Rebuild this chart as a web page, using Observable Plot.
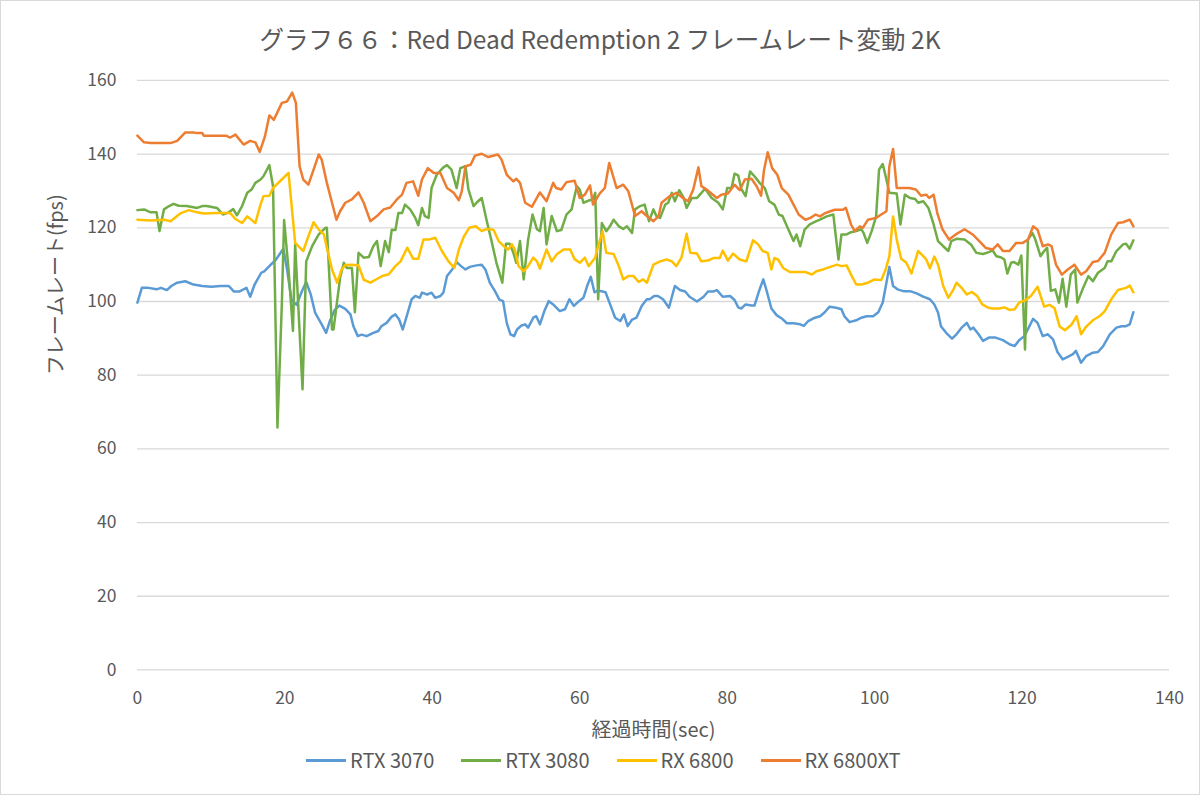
<!DOCTYPE html>
<html><head><meta charset="utf-8">
<script src="https://cdn.jsdelivr.net/npm/d3@7"></script>
<script src="https://cdn.jsdelivr.net/npm/@observablehq/plot@0.6"></script>
<style>
body{margin:0;background:#fff;}
#wrap{position:relative;width:1198px;height:793px;border:1px solid #d9d9d9;background:#fff;font-family:"Noto Sans CJK JP","Noto Sans",sans-serif;color:#595959;overflow:hidden;}
#title{position:absolute;top:22px;left:0;width:100%;text-align:center;font-size:24.5px;line-height:32px;}
#chart{position:absolute;left:-1px;top:-1px;}
#legend{position:absolute;left:305px;top:745px;display:flex;gap:27px;font-size:20px;line-height:28px;}
#legend .item{display:flex;align-items:center;gap:4px;}
#legend .sw{width:40px;height:3px;}
</style></head>
<body>
<div id="wrap">
<div id="chart"></div>
<div id="title">グラフ６６：Red Dead Redemption 2 フレームレート変動 2K</div>
<div id="legend"></div>
</div>
<script>
const seriesNames = ["RTX 3070", "RTX 3080", "RX 6800", "RX 6800XT"];
const seriesColors = ["#5b9bd5", "#70ad47", "#ffc000", "#ed7d31"];
const xTicks = [0, 20, 40, 60, 80, 100, 120, 140];
const yTicks = [0, 20, 40, 60, 80, 100, 120, 140, 160];
const yLabel = "フレームレート(fps)";
const xLabel = "経過時間(sec)";

// [time (sec), fps]
const rtx3070 = [[0,99.7],[0.6,103.7],[1.5,103.7],[2.6,103.3],[3.2,103.7],[4.0,103.1],[4.6,104.2],[5.4,105.1],[6.5,105.5],[7.6,104.6],[8.8,104.2],[10.0,104.0],[11.3,104.2],[12.4,104.2],[13.1,102.7],[13.8,102.7],[14.8,103.7],[15.3,101.3],[15.9,104.6],[16.8,107.8],[17.2,108.2],[17.9,109.6],[18.8,111.4],[19.8,114.3],[20.3,108.7],[20.9,100.4],[21.6,99.1],[22.3,102.7],[22.9,105.3],[23.5,102.0],[24.1,97.0],[25.0,93.8],[25.6,91.5],[26.1,94.7],[26.8,97.8],[27.4,98.9],[28.2,98.0],[28.9,96.5],[29.3,93.3],[29.9,90.6],[30.4,91.0],[31.1,90.6],[32.0,91.5],[32.7,92.0],[33.1,93.3],[33.8,94.2],[34.5,95.9],[35.0,96.5],[35.5,95.1],[36.0,92.4],[36.6,96.5],[37.2,100.6],[37.7,101.5],[38.3,101.0],[38.6,102.4],[39.3,101.9],[39.9,102.4],[40.4,101.0],[41.1,101.5],[41.5,102.4],[42.0,106.9],[42.7,108.7],[43.3,110.7],[43.9,109.6],[44.5,108.7],[45.1,109.4],[46.0,109.8],[46.7,110.0],[47.2,108.7],[47.8,105.1],[48.5,102.8],[49.1,100.5],[49.6,100.1],[50.1,94.2],[50.6,91.1],[51.1,90.6],[51.5,92.4],[52.1,93.5],[52.6,93.8],[53.0,92.9],[53.7,95.6],[54.1,96.0],[54.6,93.8],[55.2,97.4],[55.8,100.1],[56.4,99.2],[57.3,97.4],[58.0,97.9],[58.6,100.6],[59.2,98.8],[59.9,100.1],[60.5,101.0],[61.0,104.2],[61.5,106.7],[62.0,102.5],[62.5,103.0],[63.5,102.5],[64.2,98.8],[64.8,95.6],[65.5,94.7],[66.0,96.5],[66.5,93.3],[67.1,95.1],[67.7,95.6],[68.4,98.8],[69.1,100.6],[69.5,100.6],[70.1,101.5],[70.6,101.5],[71.3,100.6],[72.1,98.3],[72.9,104.2],[73.6,103.1],[74.3,102.7],[74.9,101.3],[75.9,100.0],[76.8,101.3],[77.4,102.7],[78.1,102.7],[78.6,103.1],[79.4,101.3],[80.4,101.5],[81.0,100.4],[81.5,98.4],[81.9,98.1],[82.5,99.2],[83.3,98.9],[83.7,98.9],[84.3,102.7],[84.9,106.0],[85.3,103.3],[86.0,98.1],[86.7,96.3],[87.4,95.4],[88.1,94.1],[89.0,94.1],[89.9,93.8],[90.4,93.4],[91.0,94.7],[91.9,95.6],[92.6,96.0],[93.2,97.0],[93.9,98.6],[94.8,98.3],[95.5,97.9],[95.9,96.0],[96.6,94.4],[97.5,94.9],[98.2,95.6],[98.9,96.0],[99.8,96.0],[100.5,97.1],[101.1,99.7],[101.6,105.1],[102.0,109.4],[102.5,104.2],[103.1,103.3],[103.9,102.8],[104.8,102.8],[105.7,102.2],[106.6,101.3],[107.5,100.6],[108.1,99.2],[108.6,97.0],[109.0,93.3],[109.7,91.5],[110.5,89.9],[111.1,91.1],[111.8,92.9],[112.5,94.2],[113.0,92.4],[113.4,92.9],[114.1,91.1],[114.7,89.3],[115.5,90.2],[116.4,90.2],[117.4,89.5],[118.3,88.4],[119.0,87.9],[119.6,89.5],[120.3,90.6],[121.0,93.3],[121.5,95.3],[122.1,94.2],[122.8,90.6],[123.5,91.1],[124.2,89.7],[124.8,86.3],[125.5,84.3],[126.2,85.0],[126.9,85.7],[127.3,86.6],[128.0,83.4],[128.7,85.2],[129.6,86.1],[130.3,86.3],[131.0,87.9],[131.9,91.1],[132.8,92.9],[133.5,93.3],[134.1,93.3],[134.6,93.8],[135.1,97.1]];

const rtx3080 = [[0,124.8],[0.9,125.0],[1.8,124.2],[2.6,124.2],[3.0,119.1],[3.6,125.0],[4.3,125.9],[4.9,126.5],[5.6,126.0],[6.7,125.9],[8.1,125.4],[8.8,125.9],[9.4,125.9],[10.8,125.4],[11.6,123.6],[12.4,124.2],[13.0,125.1],[13.5,123.4],[14.2,125.9],[14.9,129.5],[15.5,130.4],[16.0,132.2],[16.7,133.1],[17.1,134.0],[17.9,137.0],[18.4,131.3],[19.0,65.8],[19.6,99.7],[19.9,122.1],[20.5,108.7],[21.1,92.0],[21.4,115.5],[22.4,76.2],[22.9,110.9],[23.7,115.0],[24.6,118.2],[25.5,120.0],[25.7,120.0],[26.4,92.4],[26.6,92.4],[27.5,106.5],[28.0,110.5],[28.4,109.1],[29.1,109.1],[29.5,97.1],[30.0,113.2],[30.7,111.9],[31.4,112.1],[32.0,115.0],[32.5,116.4],[33.0,109.6],[33.6,116.4],[34.1,113.4],[34.5,119.5],[35.0,119.4],[35.4,124.0],[35.9,124.0],[36.3,126.3],[37.0,125.0],[37.7,122.7],[38.1,120.7],[38.6,125.4],[39.0,123.2],[39.5,122.7],[39.9,130.8],[40.6,134.4],[41.5,136.4],[42.0,137.0],[42.6,135.8],[43.3,130.8],[43.8,136.2],[44.5,136.7],[44.9,130.4],[45.6,125.9],[46.0,126.8],[46.7,128.1],[47.4,121.8],[48.1,115.9],[48.7,110.5],[49.5,105.1],[50.0,115.7],[50.5,115.7],[51.0,113.2],[51.4,110.5],[51.9,116.4],[52.4,106.0],[53.0,116.8],[53.6,123.6],[54.2,119.6],[54.6,119.1],[55.1,125.4],[55.5,115.5],[56.2,123.2],[56.9,119.1],[57.5,119.4],[58.2,123.6],[58.9,125.0],[59.6,131.3],[60.0,130.4],[60.5,126.8],[61.2,127.4],[61.8,127.7],[62.1,129.5],[62.5,100.6],[63.0,121.3],[63.6,119.1],[64.1,120.4],[64.6,122.2],[65.3,120.4],[65.9,119.7],[66.4,120.4],[67.1,118.6],[67.5,125.0],[68.2,125.9],[68.8,126.3],[69.4,121.8],[70.0,125.0],[70.4,123.2],[70.9,122.7],[71.6,126.3],[72.0,126.8],[72.5,129.5],[72.9,127.2],[73.5,130.2],[74.1,128.1],[74.5,125.4],[75.2,128.1],[75.9,128.1],[76.3,129.0],[77.0,130.6],[77.9,128.1],[78.8,126.8],[79.4,125.0],[80.0,130.8],[80.6,130.8],[81.0,134.7],[81.5,134.2],[81.9,130.6],[82.5,128.6],[83.1,135.3],[83.7,134.0],[84.4,132.2],[85.1,130.8],[85.7,127.2],[86.4,126.3],[87.0,123.6],[87.5,123.2],[88.2,120.0],[89.0,116.4],[89.4,118.2],[89.9,115.0],[90.5,119.5],[91.2,120.9],[92.1,121.8],[92.6,122.2],[93.5,123.1],[94.4,123.6],[95.1,111.4],[95.5,118.2],[96.2,118.2],[96.8,118.8],[97.5,119.1],[98.2,119.6],[98.5,118.6],[99.0,115.9],[99.6,119.1],[100.2,123.1],[100.6,135.8],[101.1,137.3],[101.6,133.1],[102.0,129.5],[103.0,129.3],[103.5,120.9],[104.1,129.0],[104.8,128.1],[105.5,127.8],[105.9,126.8],[106.6,127.2],[107.3,125.4],[108.0,120.9],[108.6,116.4],[109.3,115.0],[110.0,113.7],[110.4,116.4],[111.1,117.0],[112.2,116.8],[113.1,115.4],[113.8,113.2],[114.7,112.9],[115.5,113.4],[116.0,113.9],[116.5,112.3],[117.1,112.0],[117.6,111.4],[118.0,107.6],[118.5,110.5],[118.9,110.7],[119.5,110.0],[119.9,112.5],[120.4,87.0],[120.8,116.8],[121.4,118.6],[121.8,116.8],[122.5,112.3],[123.0,113.7],[123.4,114.6],[123.9,102.9],[124.5,103.3],[125.0,99.7],[125.5,106.2],[126.0,98.6],[126.6,107.3],[127.2,108.7],[127.5,99.7],[128.2,103.3],[129.0,106.9],[129.6,105.5],[130.3,107.8],[131.2,109.1],[131.6,110.9],[132.1,110.9],[132.8,113.7],[133.7,115.5],[134.1,115.7],[134.6,114.3],[135.1,116.6]];

const rx6800 = [[0,122.2],[1.8,122.0],[3.6,122.2],[4.5,121.8],[5.9,124.0],[7.0,124.8],[8.1,124.2],[9.0,123.9],[10.8,124.0],[12.6,124.0],[13.3,122.4],[14.2,121.3],[14.9,123.1],[16.0,121.3],[16.7,126.3],[17.1,128.6],[17.9,128.7],[18.4,130.8],[20.5,134.9],[21.4,115.9],[22.5,113.7],[23.2,117.7],[23.9,121.5],[24.6,119.5],[25.3,118.2],[25.7,114.6],[26.4,108.7],[27.1,105.1],[27.7,108.7],[28.2,109.9],[29.1,110.0],[30.0,109.8],[30.7,105.9],[31.6,105.1],[32.3,105.9],[33.2,106.9],[34.1,107.4],[35.0,109.6],[35.7,110.9],[36.6,114.6],[37.4,111.6],[38.1,111.6],[38.8,116.8],[39.5,116.8],[40.4,117.3],[41.3,113.7],[42.2,110.9],[43.0,109.1],[43.6,114.1],[44.3,117.7],[45.0,120.0],[45.9,120.4],[46.7,119.1],[47.4,119.7],[48.3,119.5],[49.0,116.4],[49.7,115.0],[50.3,114.1],[50.8,115.5],[51.2,114.1],[51.7,109.6],[52.4,108.2],[53.0,109.6],[53.7,111.9],[54.2,110.9],[54.6,108.9],[55.5,114.1],[56.2,110.9],[56.9,112.8],[57.8,114.1],[58.7,114.1],[59.3,111.5],[60.0,110.5],[60.7,111.9],[61.2,109.6],[62.1,111.9],[62.5,115.0],[63.1,119.1],[63.6,113.2],[64.6,112.9],[65.3,109.6],[65.9,106.0],[66.6,106.9],[67.3,106.9],[68.0,105.3],[68.6,106.0],[69.1,105.1],[70.0,110.0],[70.9,110.9],[71.8,111.4],[72.5,110.9],[73.1,109.6],[73.8,111.9],[74.5,118.4],[75.0,113.2],[75.9,113.0],[76.5,110.9],[77.4,111.1],[78.1,111.8],[79.0,111.8],[79.4,113.8],[80.1,111.1],[80.8,113.0],[81.7,111.4],[82.6,110.9],[83.5,116.6],[84.2,115.5],[84.8,113.7],[85.5,113.2],[86.0,108.7],[86.4,111.8],[86.9,111.4],[87.6,109.1],[88.5,108.0],[89.7,108.0],[90.6,108.0],[91.5,107.3],[92.1,108.2],[93.0,108.7],[94.0,109.4],[94.9,110.0],[95.5,109.6],[96.2,109.8],[96.8,107.3],[97.5,104.6],[98.2,104.6],[99.1,105.1],[100.0,106.0],[100.9,105.8],[101.5,108.7],[102.0,112.3],[102.5,123.1],[103.0,116.8],[103.6,111.6],[104.3,110.5],[105.0,107.6],[105.9,113.7],[106.6,112.3],[107.0,111.4],[107.5,109.0],[108.1,112.2],[108.6,110.0],[109.3,104.2],[110.0,101.0],[110.7,103.3],[111.1,105.1],[111.8,103.7],[112.5,101.9],[113.2,102.6],[113.9,101.5],[114.6,99.2],[115.4,98.3],[116.0,98.1],[116.9,98.1],[117.6,98.4],[118.3,97.7],[119.0,97.9],[119.6,99.7],[120.5,100.4],[121.2,101.5],[122.1,104.0],[123.0,98.6],[123.7,99.1],[124.4,98.2],[125.1,93.2],[125.8,92.2],[126.7,93.7],[127.4,96.0],[128.0,91.1],[128.7,93.2],[129.6,94.9],[130.5,96.0],[131.2,97.3],[132.1,100.6],[133.0,103.1],[134.1,103.7],[134.6,104.3],[135.1,102.5]];

const rx6800xt = [[0,145.0],[0.9,143.2],[1.8,143.0],[3.0,143.0],[4.5,143.0],[5.4,143.6],[6.5,145.9],[7.6,145.9],[8.0,145.7],[8.8,145.7],[9.0,145.0],[12.0,145.0],[12.6,144.5],[13.3,145.3],[14.4,142.6],[15.3,143.6],[16.0,143.2],[16.6,140.6],[17.3,144.8],[17.9,150.5],[18.5,149.3],[19.6,153.9],[20.3,154.3],[21.0,156.7],[21.5,153.9],[22.0,136.7],[22.5,133.1],[23.2,131.7],[23.9,135.8],[24.6,139.9],[25.0,138.5],[25.7,132.2],[26.4,126.8],[27.0,122.2],[27.5,124.5],[28.2,126.8],[29.1,127.7],[30.0,129.6],[30.7,126.8],[31.6,121.8],[32.5,123.2],[33.4,125.0],[34.3,125.5],[35.2,127.7],[35.9,129.0],[36.5,132.2],[37.4,132.6],[38.1,128.7],[38.6,133.1],[39.4,136.2],[40.2,134.9],[41.1,134.9],[42.0,130.8],[42.9,129.5],[43.6,127.5],[44.0,129.9],[44.5,136.7],[45.2,137.1],[45.8,139.6],[46.7,140.1],[47.6,139.2],[48.9,139.9],[49.4,138.5],[50.1,134.4],[51.0,132.6],[51.4,133.3],[51.9,132.2],[52.6,126.8],[53.5,125.7],[54.6,129.6],[55.5,127.2],[56.4,132.2],[56.8,130.8],[57.5,130.4],[58.2,132.4],[59.3,132.8],[60.0,128.1],[60.7,129.0],[61.4,131.5],[61.8,126.3],[62.7,129.3],[63.4,130.8],[64.0,137.6],[65.0,130.8],[65.9,131.7],[66.6,129.9],[67.5,123.2],[68.4,124.5],[69.1,123.2],[70.0,121.8],[70.7,123.2],[71.1,126.8],[72.2,128.6],[73.1,129.5],[74.0,128.1],[74.7,127.2],[75.4,130.4],[76.1,136.4],[76.5,131.3],[77.2,130.4],[78.6,128.1],[79.2,129.0],[80.1,129.3],[81.0,131.7],[81.7,130.2],[82.4,133.1],[83.3,133.3],[84.0,131.3],[84.6,128.7],[85.0,135.7],[85.5,140.5],[86.1,136.2],[86.8,134.4],[87.4,130.8],[88.3,129.0],[89.0,126.3],[89.7,123.6],[90.6,122.2],[91.3,122.7],[92.0,123.6],[92.6,123.1],[93.3,124.0],[94.0,124.5],[94.6,124.9],[95.7,124.9],[96.1,125.4],[96.8,120.9],[97.3,119.1],[98.0,120.4],[98.4,120.0],[99.1,122.2],[100.2,122.7],[100.9,123.6],[101.6,124.5],[102.0,136.7],[102.5,141.4],[103.0,130.8],[103.8,130.8],[104.7,130.8],[105.6,130.4],[106.3,128.7],[107.0,129.0],[107.4,128.1],[108.0,129.0],[108.5,124.0],[109.2,119.6],[110.1,116.8],[111.0,118.2],[112.2,119.6],[113.3,118.2],[114.2,116.4],[115.1,114.5],[116.0,114.1],[116.7,115.5],[117.4,113.7],[118.3,113.7],[119.2,115.9],[120.1,115.9],[120.8,116.8],[121.5,120.4],[122.1,119.5],[122.8,115.0],[123.5,115.5],[124.0,115.0],[124.6,110.0],[125.4,107.3],[126.2,108.7],[127.1,110.0],[128.0,107.3],[128.7,108.2],[129.6,110.7],[130.3,111.0],[131.2,113.2],[132.1,118.2],[133.0,121.3],[133.7,121.5],[134.6,122.2],[135.1,120.4]];

const seriesData = [rtx3070, rtx3080, rx6800, rx6800xt];
const rows = seriesData.flatMap((arr, i) => arr.map(([t, v]) => ({series: seriesNames[i], t, v})));

const font = '"Noto Sans CJK JP","Noto Sans",sans-serif';
const chart = Plot.plot({
  width: 1200, height: 795,
  marginLeft: 137, marginRight: 30, marginTop: 80, marginBottom: 125,
  style: {fontFamily: font, fontSize: "17.5px", color: "#595959", background: "transparent"},
  x: {domain: [0, 140], label: null},
  y: {domain: [0, 160], label: null},
  color: {domain: seriesNames, range: seriesColors},
  marks: [
    Plot.gridY(yTicks, {stroke: "#d9d9d9", strokeOpacity: 1, strokeWidth: 1.3}),
    Plot.axisY(yTicks, {tickSize: 0, tickPadding: 21, fontSize: 17.5, label: null}),
    Plot.axisX(xTicks, {tickSize: 0, tickPadding: 22, fontSize: 17.5, label: null}),
    Plot.line(rows, {x: "t", y: "v", z: "series", stroke: "series", strokeWidth: 2.5, strokeLinejoin: "round", strokeLinecap: "round"}),
    Plot.text([yLabel], {text: d => d, frameAnchor: "left", dx: -81, rotate: -90, fontSize: 20, fill: "#595959"}),
    Plot.text([xLabel], {text: d => d, frameAnchor: "bottom", dy: 67, fontSize: 20, fill: "#595959"})
  ]
});
document.getElementById("chart").append(chart);

const leg = document.getElementById("legend");
seriesNames.forEach((n, i) => {
  const it = document.createElement("div");
  it.className = "item";
  it.innerHTML = `<span class="sw" style="background:${seriesColors[i]}"></span><span>${n}</span>`;
  leg.append(it);
});
</script>
</body></html>
